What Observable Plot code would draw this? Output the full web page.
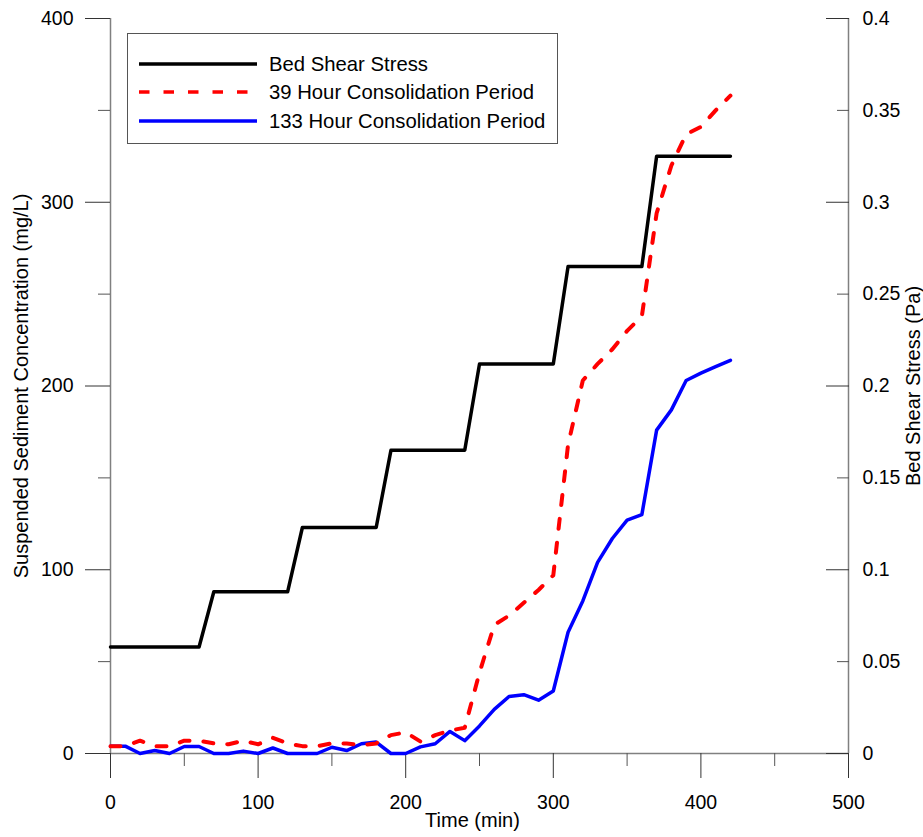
<!DOCTYPE html>
<html>
<head>
<meta charset="utf-8">
<script src="https://cdn.jsdelivr.net/npm/d3@7"></script>
<script src="https://cdn.jsdelivr.net/npm/@observablehq/plot@0.6"></script>
<style>
  body { margin: 0; background: #fff; }
  #wrap { position: relative; width: 923px; height: 837px; font-family: "Liberation Sans", Arial, sans-serif; }
  #legend { position: absolute; left: 127px; top: 33px; width: 431px; height: 111px; border: 1px solid #555; background: #fff; box-sizing: border-box; }
  .row { position: absolute; left: 0; height: 24px; display: flex; align-items: center; white-space: nowrap; }
  .row svg { margin-left: 11px; display: block; }
  .row span { margin-left: 12px; font-size: 20.3px; color: #000; }
</style>
</head>
<body>
<div id="wrap"></div>
<script>
// ---- data ----
const times = [0,10,20,30,40,50,60,70,80,90,100,110,120,130,140,150,160,170,180,190,200,
               210,220,230,240,250,260,270,280,290,300,310,320,330,340,350,360,370,380,390,400,410,420];
const sed39 = [4,4,7,4,4,7,7,5.5,5,7,5,8.5,5.5,4,4,5.5,5.5,4.5,5.5,10,11.5,
               6.5,10,12.5,14,44,70,75,82,89,97,168,203,212,220,230,238,294,320,337,341,350,358];
const sed133 = [4,4,0,1.6,0,3.8,3.8,0,0,1.3,0,3,0,0,0,3.4,1.6,5.3,6.2,0,0,
                3.6,5.3,12,7,15,24,31,32,29,34,66,83,104,117,127,130,176,187,203,207,210.5,214];
const shearTime = [0,60,70,120,130,180,190,240,250,300,310,360,370,420];
const shearPa = [0.058,0.058,0.088,0.088,0.123,0.123,0.165,0.165,0.212,0.212,0.265,0.265,0.325,0.325];

const xMajor = [0,100,200,300,400,500];
const xMinor = [50,150,250,350,450];
const yMajor = [0,100,200,300,400];
const yMinor = [50,150,250,350];
const paMajor = [0,0.1,0.2,0.3,0.4];
const paMinor = [0.05,0.15,0.25,0.35];
const paLabels = [0,0.05,0.1,0.15,0.2,0.25,0.3,0.35,0.4];
const PA_TO_MGL = 1000; // right axis 0–0.4 Pa spans the same height as 0–400 mg/L

const seriesNames = ["Bed Shear Stress", "39 Hour Consolidation Period", "133 Hour Consolidation Period"];
const xTitle = "Time (min)";
const yTitle = "Suspended Sediment Concentration (mg/L)";
const y2Title = "Bed Shear Stress (Pa)";

// ---- tables ----
const shear = shearTime.map((t, i) => ({t, pa: shearPa[i]}));
const s39 = times.map((t, i) => ({t, c: sed39[i]}));
const s133 = times.map((t, i) => ({t, c: sed133[i]}));
const fmtPa = d => String(+(d / PA_TO_MGL).toFixed(2));

const chart = Plot.plot({
  width: 923, height: 837,
  marginLeft: 110, marginRight: 75, marginTop: 18, marginBottom: 84,
  x: {domain: [0, 500]},
  y: {domain: [0, 400]},
  style: {fontFamily: '"Liberation Sans", Arial, sans-serif', fontSize: "19px", color: "#000", background: "#fff", overflow: "visible"},
  marks: [
    Plot.ruleY([0], {stroke: "#808080", strokeWidth: 1.5}),
    Plot.ruleX([0, 500], {stroke: "#808080", strokeWidth: 1.5}),
    Plot.axisX({ticks: xMajor, tickSize: 25, tickPadding: 17, stroke: "#333", fill: "#000", label: null, fontSize: 19.5}),
    Plot.axisX({ticks: xMinor, tickSize: 13, tickFormat: () => "", stroke: "#555", label: null}),
    Plot.axisY({ticks: yMajor, anchor: "left", tickSize: 25, tickPadding: 12, stroke: "#333", fill: "#000", label: null, fontSize: 19.5}),
    Plot.axisY({ticks: yMinor, anchor: "left", tickSize: 12, tickFormat: () => "", stroke: "#555", label: null}),
    Plot.axisY({ticks: paMajor.map(p => p * PA_TO_MGL), anchor: "right", tickSize: -23, tickFormat: () => "", stroke: "#333", label: null}),
    Plot.axisY({ticks: paMinor.map(p => p * PA_TO_MGL), anchor: "right", tickSize: -12, tickFormat: () => "", stroke: "#555", label: null}),
    Plot.axisY({ticks: paLabels.map(p => p * PA_TO_MGL), anchor: "right", tickSize: 0, tickPadding: 14, tickFormat: fmtPa, fill: "#000", label: null, fontSize: 19.5}),
    Plot.line(shear, {x: "t", y: d => d.pa * PA_TO_MGL, stroke: "#000", strokeWidth: 3.5}),
    Plot.line(s133, {x: "t", y: "c", stroke: "#0000ff", strokeWidth: 3.5}),
    Plot.line(s39, {x: "t", y: "c", stroke: "#ff0000", strokeWidth: 4, strokeDasharray: "10,14"}),
    Plot.text([yTitle], {text: d => d, frameAnchor: "left", textAnchor: "middle", rotate: -90, dx: -89, fontSize: 20, fill: "#000"}),
    Plot.text([y2Title], {text: d => d, frameAnchor: "right", textAnchor: "middle", rotate: -90, dx: 65, fontSize: 20, fill: "#000"}),
    Plot.text([xTitle], {text: d => d, frameAnchor: "bottom", textAnchor: "middle", dy: 73, dx: -7, fontSize: 20, fill: "#000"})
  ]
});

const wrap = document.getElementById("wrap");
wrap.appendChild(chart);

// ---- legend (HTML overlay inside the plot frame) ----
const legendStyles = [
  {stroke: "#000", dash: null},
  {stroke: "#ff0000", dash: "10.5,14"},
  {stroke: "#0000ff", dash: null}
];
const rowTops = [18, 46, 75];
const legend = document.createElement("div");
legend.id = "legend";
seriesNames.forEach((name, i) => {
  const row = document.createElement("div");
  row.className = "row";
  row.style.top = rowTops[i] + "px";
  const ns = "http://www.w3.org/2000/svg";
  const svg = document.createElementNS(ns, "svg");
  svg.setAttribute("width", 118); svg.setAttribute("height", 8);
  const ln = document.createElementNS(ns, "line");
  ln.setAttribute("x1", 0); ln.setAttribute("x2", 118);
  ln.setAttribute("y1", 4); ln.setAttribute("y2", 4);
  ln.setAttribute("stroke", legendStyles[i].stroke);
  ln.setAttribute("stroke-width", 3.5);
  if (legendStyles[i].dash) ln.setAttribute("stroke-dasharray", legendStyles[i].dash);
  svg.appendChild(ln);
  const span = document.createElement("span");
  span.textContent = name;
  row.appendChild(svg); row.appendChild(span);
  legend.appendChild(row);
});
wrap.appendChild(legend);
</script>
</body>
</html>
